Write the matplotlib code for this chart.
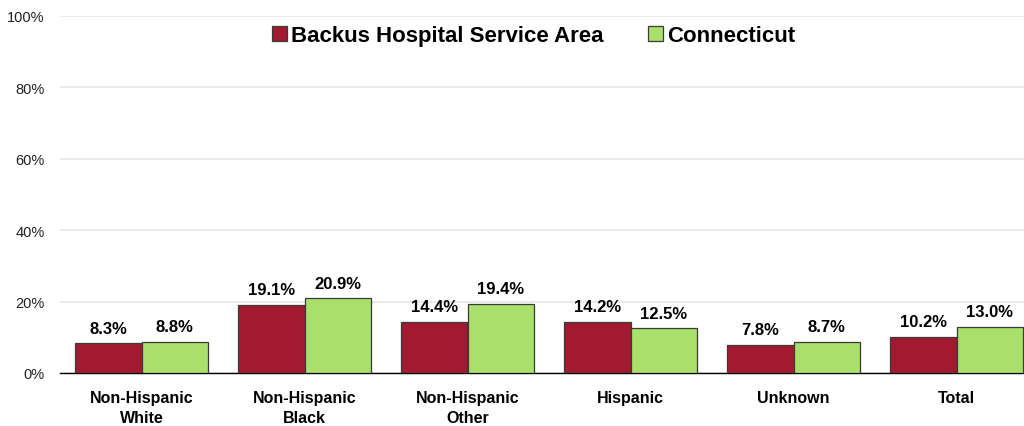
import numpy as np
import matplotlib.pyplot as plt

plt.rcParams['font.family'] = ['Liberation Sans', 'DejaVu Sans']

categories = ['Non-Hispanic\nWhite', 'Non-Hispanic\nBlack', 'Non-Hispanic\nOther',
              'Hispanic', 'Unknown', 'Total']
backus = [8.3, 19.1, 14.4, 14.2, 7.8, 10.2]
ct = [8.8, 20.9, 19.4, 12.5, 8.7, 13.0]
series_names = ['Backus Hospital Service Area', 'Connecticut']

red = '#A21A30'
green = '#A9DF6B'

fig = plt.figure(figsize=(10.24, 4.27), dpi=100)
ax = fig.add_axes([60/1024, 53/427, 978/1024, 357/427])

x = np.arange(len(categories))
w = 0.41
b1 = ax.bar(x - w/2, backus, w, color=red, edgecolor='#3a3a3a', linewidth=0.9,
            label=series_names[0], zorder=3)
b2 = ax.bar(x + w/2, ct, w, color=green, edgecolor='#3a3a3a', linewidth=0.9,
            label=series_names[1], zorder=3)

for bars, vals in [(b1, backus), (b2, ct)]:
    for r, v in zip(bars, vals):
        ax.text(r.get_x() + r.get_width()/2, v + 2.2, f'{v:.1f}%', ha='center',
                va='bottom', fontsize=12, fontweight='bold')

ax.set_xlim(-0.5, len(categories) - 0.5)
ax.set_ylim(0, 100)
ax.set_yticks(range(0, 101, 20))
ax.set_yticklabels([f'{t}%' for t in range(0, 101, 20)], fontsize=10.5, color='#222222')
ax.set_xticks(x)
ax.set_xticklabels(categories, fontsize=11.5, fontweight='bold', linespacing=1.45)
ax.tick_params(axis='both', length=0)
ax.tick_params(axis='x', pad=12)
ax.tick_params(axis='y', pad=11)
ax.grid(axis='y', color='#e6e6e6', linewidth=1.2, zorder=0)
for s in ['top', 'right', 'left']:
    ax.spines[s].set_visible(False)
ax.spines['bottom'].set_color('black')
ax.spines['bottom'].set_linewidth(1)

leg = ax.legend(loc='upper center', bbox_to_anchor=(0.5 - 0.016, 1.03), ncol=2, frameon=False,
                prop={'weight': 'bold', 'size': 16}, handlelength=0.7, handleheight=0.7,
                handletextpad=0.15, columnspacing=2.0)

fig.savefig('out.png', dpi=100)
